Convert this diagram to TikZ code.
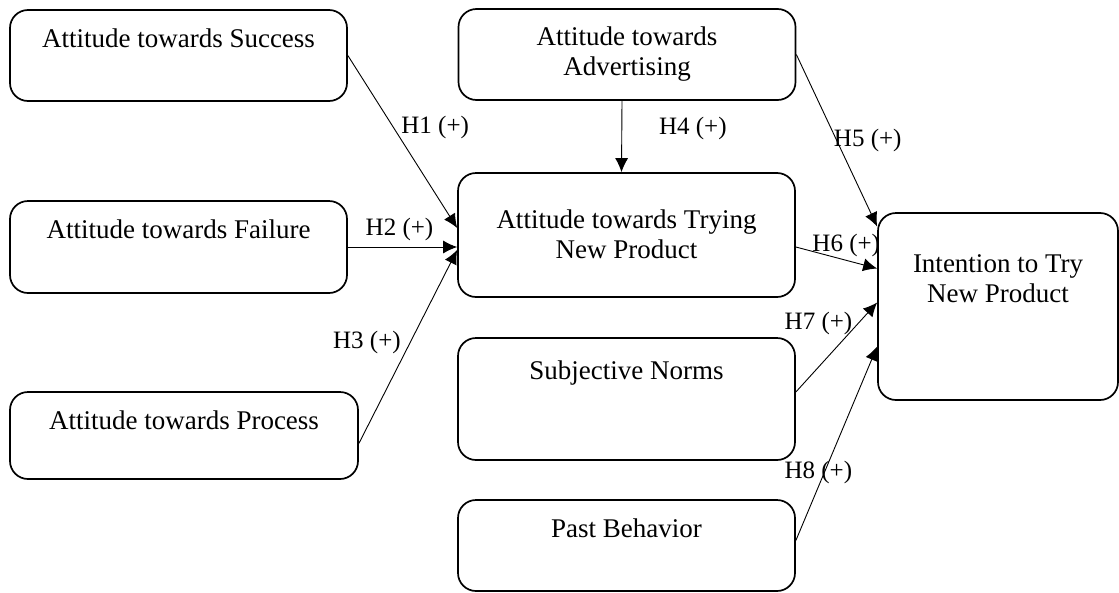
\documentclass[tikz,border=0pt]{standalone}
\usepackage{fontspec}
\setmainfont{Liberation Serif}
\usetikzlibrary{arrows.meta}
\tikzset{
	factor/.style={draw, line width=1.7pt, rounded corners=18pt, inner sep=0pt, minimum width=337pt, align=center, font=\fontsize{27}{30}\selectfont},
	hyp/.style={font=\fontsize{25}{28}\selectfont, inner sep=0pt},
	>={Latex[length=14pt, width=13pt]}
}

\begin{document}
\begin{tikzpicture}[x=1pt, y=-1pt, line width=0.9pt]
		\useasboundingbox (0,0) rectangle (1119,592);
		\node[factor, text height=37pt, text depth=54pt] (success) at (178.5,55.5) {Attitude towards Success};
		\node[factor, text height=37pt, text depth=55pt] (failure) at (178.5,247) {Attitude towards Failure};
		\node[factor, minimum width=348pt, text height=37pt, text depth=50pt] (process) at (184,435.5) {Attitude towards Process};
		\node[factor, text height=66pt, text depth=25pt] (advert) at (627,54.5) {Attitude towards\\Advertising};
		\node[factor, text height=85pt, text depth=39pt] (trying) at (626.5,235) {Attitude towards Trying\\New Product};
		\node[factor, text height=41pt, text depth=81pt] (norms) at (626.5,399) {Subjective Norms};
		\node[factor, text height=37pt, text depth=54pt] (past) at (626.5,545.5) {Past Behavior};
		\node[factor, minimum width=240pt, text height=89pt, text depth=98pt] (intention) at (998,306.5) {Intention to Try\\New Product};
		\draw[->]  (success.east) to node [hyp, pos=.415, xshift=42pt] {H1 (+)} ([yshift=7pt]trying.west);
		\draw[->]  (failure.east) to node [hyp, pos=.5, xshift=-3pt, yshift=18pt] {H2 (+)} ([yshift=-12pt]trying.west);
		\draw[->]  ([yshift=-8pt]process.east) to node [hyp, pos=.52, xshift=-43pt] {H3 (+)} ([yshift=-15pt]trying.west);
		\draw[->]  ([xshift=-5pt]advert.south) to node [hyp, pos=.39, xshift=71pt] {H4 (+)} ([xshift=-5pt]trying.north);
		\draw[->]  (advert.east) to node [hyp, pos=.5, xshift=31pt] {H5 (+)} ([yshift=80pt]intention.west);
		\draw[->]  ([yshift=-12pt]trying.east) to node [hyp, pos=.62, yshift=15pt] {H6 (+)} ([yshift=38pt]intention.west);
		\draw[->]  ([yshift=7pt]norms.east) to node [hyp, pos=.5, xshift=-18pt, yshift=24pt] {H7 (+)} ([yshift=4pt]intention.west);
		\draw[->]  ([yshift=5pt]past.east) to node [hyp, pos=.35, xshift=-6pt] {H8 (+)} ([yshift=-40pt]intention.west);
	\end{tikzpicture}
\end{document}
